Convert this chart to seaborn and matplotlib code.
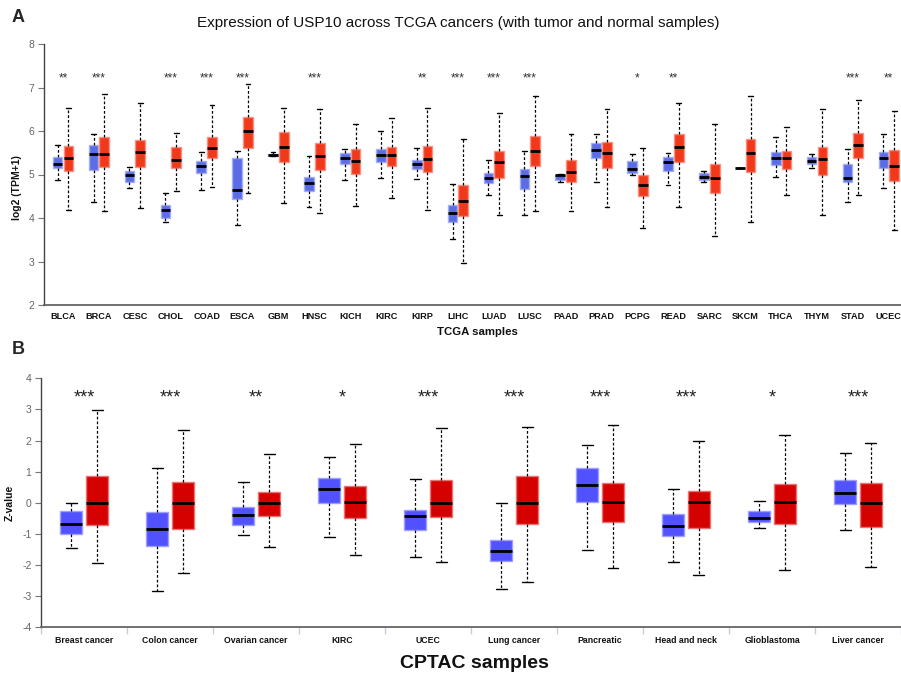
import numpy as np
import pandas as pd
import seaborn as sns
import matplotlib.pyplot as plt
from matplotlib.colors import to_rgb

sns.set_theme(style="white")
plt.rcParams["font.family"] = ["Liberation Sans", "DejaVu Sans"]
plt.rcParams["axes.unicode_minus"] = False

# ---------------- TCGA (panel A): five-number summaries per box ----------------
tcga_cancers = ["BLCA", "BRCA", "CESC", "CHOL", "COAD", "ESCA", "GBM", "HNSC",
                "KICH", "KIRC", "KIRP", "LIHC", "LUAD", "LUSC", "PAAD", "PRAD",
                "PCPG", "READ", "SARC", "SKCM", "THCA", "THYM", "STAD", "UCEC"]

tcga_normal_low = [4.88, 4.36, 4.70, 3.90, 4.65, 3.83, 5.42, 4.26, 4.88, 4.91, 4.89, 3.52,
                   4.54, 4.06, 4.82, 4.82, 4.98, 4.77, 4.82, 5.15, 4.95, 5.16, 4.36, 4.69]
tcga_normal_q1 = [5.14, 5.10, 4.82, 3.99, 5.03, 4.43, 5.42, 4.63, 5.23, 5.28, 5.12, 3.91,
                  4.80, 4.66, 4.88, 5.37, 5.03, 5.09, 4.88, 5.15, 5.22, 5.23, 4.82, 5.16]
tcga_normal_med = [5.23, 5.46, 4.98, 4.19, 5.19, 4.65, 5.45, 4.81, 5.37, 5.44, 5.23, 4.12,
                   4.91, 4.97, 4.98, 5.56, 5.12, 5.28, 4.95, 5.15, 5.39, 5.32, 4.93, 5.38]
tcga_normal_q3 = [5.41, 5.67, 5.07, 4.30, 5.31, 5.38, 5.48, 4.95, 5.49, 5.58, 5.34, 4.30,
                  5.03, 5.12, 5.00, 5.72, 5.31, 5.41, 5.03, 5.15, 5.52, 5.41, 5.24, 5.51]
tcga_normal_high = [5.67, 5.93, 5.18, 4.58, 5.51, 5.53, 5.52, 5.43, 5.58, 6.00, 5.62, 4.78,
                    5.34, 5.54, 5.01, 5.92, 5.48, 5.50, 5.09, 5.15, 5.87, 5.48, 5.58, 5.92]

tcga_tumor_low = [4.19, 4.16, 4.22, 4.63, 4.71, 4.57, 4.34, 4.11, 4.28, 4.47, 4.19, 2.97,
                  4.06, 4.16, 4.17, 4.26, 3.77, 4.25, 3.59, 3.90, 4.54, 4.06, 4.52, 3.73]
tcga_tumor_q1 = [5.07, 5.17, 5.17, 5.16, 5.39, 5.61, 5.28, 5.10, 5.01, 5.19, 5.05, 4.05,
                 4.93, 5.19, 4.83, 5.16, 4.51, 5.28, 4.58, 5.05, 5.12, 4.98, 5.37, 4.84]
tcga_tumor_med = [5.37, 5.48, 5.51, 5.34, 5.61, 6.01, 5.64, 5.42, 5.30, 5.44, 5.35, 4.39,
                  5.28, 5.55, 5.05, 5.49, 4.75, 5.64, 4.93, 5.49, 5.37, 5.35, 5.68, 5.19]
tcga_tumor_q3 = [5.66, 5.86, 5.79, 5.63, 5.87, 6.32, 5.97, 5.73, 5.59, 5.64, 5.66, 4.75,
                 5.54, 5.89, 5.34, 5.75, 5.00, 5.94, 5.24, 5.82, 5.54, 5.63, 5.96, 5.56]
tcga_tumor_high = [6.53, 6.84, 6.64, 5.95, 6.60, 7.08, 6.54, 6.50, 6.15, 6.31, 6.53, 5.81,
                   6.41, 6.80, 5.92, 6.50, 5.61, 6.64, 6.17, 6.81, 6.10, 6.50, 6.72, 6.47]

tcga_signif = ["**", "***", "", "***", "***", "***", "", "***", "", "", "**", "***",
               "***", "***", "", "", "*", "**", "", "", "", "", "***", "**"]

# ---------------- CPTAC (panel B): five-number summaries per box ----------------
cptac_cancers = ["Breast cancer", "Colon cancer", "Ovarian cancer", "KIRC", "UCEC",
                 "Lung cancer", "Pancreatic", "Head and neck", "Glioblastoma", "Liver cancer"]

cptac_normal_low = [-1.45, -2.83, -1.05, -1.09, -1.75, -2.76, -1.52, -1.89, -0.82, -0.88]
cptac_normal_q1 = [-1.01, -1.40, -0.72, 0.00, -0.87, -1.88, 0.02, -1.08, -0.63, -0.04]
cptac_normal_med = [-0.67, -0.85, -0.39, 0.45, -0.42, -1.54, 0.56, -0.76, -0.48, 0.32]
cptac_normal_q3 = [-0.25, -0.30, -0.14, 0.79, -0.24, -1.20, 1.13, -0.36, -0.26, 0.73]
cptac_normal_high = [0.00, 1.12, 0.67, 1.48, 0.75, 0.00, 1.86, 0.45, 0.07, 1.60]

cptac_tumor_low = [-1.94, -2.24, -1.43, -1.67, -1.89, -2.56, -2.09, -2.32, -2.15, -2.07]
cptac_tumor_q1 = [-0.72, -0.83, -0.43, -0.48, -0.46, -0.69, -0.63, -0.80, -0.69, -0.78]
cptac_tumor_med = [0.00, 0.00, 0.00, 0.02, 0.00, 0.00, 0.04, 0.02, 0.02, 0.00]
cptac_tumor_q3 = [0.85, 0.68, 0.34, 0.54, 0.72, 0.85, 0.63, 0.39, 0.61, 0.63]
cptac_tumor_high = [2.97, 2.35, 1.58, 1.90, 2.39, 2.45, 2.49, 1.99, 2.18, 1.93]

cptac_signif = ["***", "***", "**", "*", "***", "***", "***", "***", "*", "***"]


def summary_table(cancers, groups):
    """Long table holding, for each box, its five summary values."""
    rows = []
    for group, stats in groups.items():
        for i, cancer in enumerate(cancers):
            for s in stats:
                rows.append({"cancer": cancer, "group": group, "value": s[i]})
    return pd.DataFrame(rows)


tcga_df = summary_table(tcga_cancers, {
    "Normal": [tcga_normal_low, tcga_normal_q1, tcga_normal_med, tcga_normal_q3, tcga_normal_high],
    "Tumor": [tcga_tumor_low, tcga_tumor_q1, tcga_tumor_med, tcga_tumor_q3, tcga_tumor_high],
})
cptac_df = summary_table(cptac_cancers, {
    "Normal": [cptac_normal_low, cptac_normal_q1, cptac_normal_med, cptac_normal_q3, cptac_normal_high],
    "Tumor": [cptac_tumor_low, cptac_tumor_q1, cptac_tumor_med, cptac_tumor_q3, cptac_tumor_high],
})


def lighten(color, amount=0.45):
    r, g, b = to_rgb(color)
    return (r + (1 - r) * amount, g + (1 - g) * amount, b + (1 - b) * amount)


def draw_boxes(ax, df, order, colors, gap):
    sns.boxplot(data=df, x="cancer", y="value", hue="group", order=order,
                hue_order=["Normal", "Tumor"], palette=colors, saturation=1,
                width=0.6, gap=gap, whis=(0, 100), showfliers=False,
                linecolor="black", linewidth=1.0, legend=False, ax=ax,
                whiskerprops=dict(linestyle=(0, (2.2, 1.6)), linewidth=0.9),
                capprops=dict(linewidth=1.0),
                medianprops=dict(linewidth=2.0, color="black"))
    for p in ax.patches:
        p.set_edgecolor(lighten(p.get_facecolor()))
        p.set_linewidth(1.0)


fig = plt.figure(figsize=(9.01, 6.79), dpi=100)

# ---------------- panel A ----------------
axA = fig.add_axes([44 / 901, 1 - 305 / 679, 857 / 901, 261 / 679])
draw_boxes(axA, tcga_df, tcga_cancers, ["#5b6de6", "#f0391b"], gap=0.1)
axA.set_ylim(2, 8)
axA.set_xlim(-0.53, 23.34)
axA.set_yticks(range(2, 9))
for i, s in enumerate(tcga_signif):
    if s:
        axA.text(i, 7.2, s, ha="center", va="center", fontsize=8.5, color="#333333")
axA.set_title("Expression of USP10 across TCGA cancers (with tumor and normal samples)",
              fontsize=11, color="#111111", pad=12.5, x=(458 - 44) / 857)
axA.set_xlabel("TCGA samples", fontsize=8.2, fontweight="bold", color="#111111", va="center")
axA.xaxis.set_label_coords((477 - 44) / 857, (305 - 332) / 261)
axA.set_ylabel("log2 (TPM+1)", fontsize=7.5, fontweight="bold", color="#111111", va="center")
axA.yaxis.set_label_coords((17 - 44) / 857, (305 - 188) / 261)
axA.tick_params(axis="x", length=0, pad=5, labelsize=6.6, labelcolor="#111111")
axA.tick_params(axis="y", left=True, length=4, width=0.8, color="#777777",
                labelsize=7.5, labelcolor="#666666", pad=3)
for t in axA.get_xticklabels():
    t.set_fontweight("bold")

# ---------------- panel B ----------------
axB = fig.add_axes([41.3 / 901, 1 - 627.3 / 679, 859.7 / 901, 249 / 679])
draw_boxes(axB, cptac_df, cptac_cancers, ["#5151fd", "#d50000"], gap=0.15)
axB.set_ylim(-4, 4)
axB.set_xlim(-0.5, 9.42)
axB.set_yticks(range(-4, 5))
for i, s in enumerate(cptac_signif):
    axB.text(i, 3.38, s, ha="center", va="center", fontsize=13, color="#222222")
axB.set_xlabel("CPTAC samples", fontsize=14, fontweight="bold", color="#111111", va="center")
axB.xaxis.set_label_coords((474 - 41.3) / 859.7, (627.3 - 664) / 249)
axB.set_ylabel("Z-value", fontsize=7.5, fontweight="bold", color="#111111", va="center")
axB.yaxis.set_label_coords((10 - 41.3) / 859.7, 0.5)
axB.set_xticks(np.arange(-0.5, 10, 1), minor=True)
axB.tick_params(axis="x", which="major", length=0, pad=6, labelsize=6.3, labelcolor="#111111")
axB.tick_params(axis="x", which="minor", bottom=True, length=5, width=1, color="#c3cfdf")
axB.tick_params(axis="y", left=True, length=4, width=0.8, color="#777777",
                labelsize=7.5, labelcolor="#666666", pad=3)
for t in axB.get_xticklabels():
    t.set_fontweight("bold")

for ax in (axA, axB):
    for side in ("top", "right"):
        ax.spines[side].set_visible(False)
    ax.spines["left"].set_color("#444444")
    ax.spines["left"].set_linewidth(1.0)
    ax.spines["bottom"].set_color("#666666")
    ax.spines["bottom"].set_linewidth(1.3)

fig.text(12 / 901, 1 - 18 / 679, "A", fontsize=13, fontweight="bold", va="center", ha="left")
fig.text(12 / 901, 1 - 350 / 679, "B", fontsize=13, fontweight="bold", va="center", ha="left")

fig.savefig("out.png", dpi=100, facecolor="white")
